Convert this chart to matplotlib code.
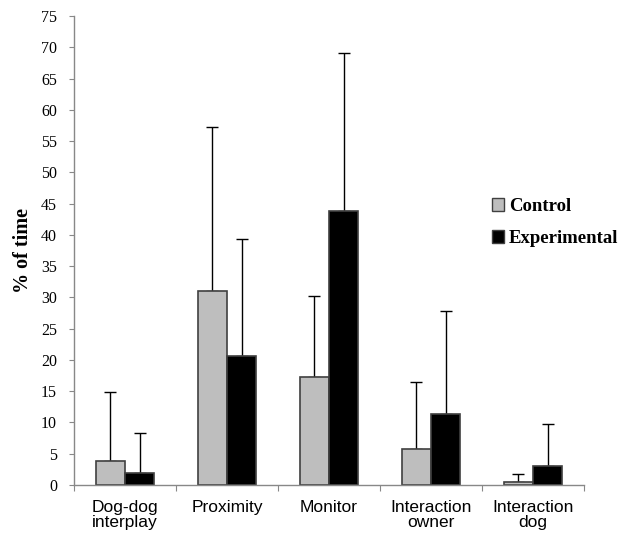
import matplotlib
matplotlib.use("Agg")
import matplotlib.pyplot as plt
import numpy as np
from matplotlib.patches import Patch

categories = ["Dog-dog\ninterplay", "Proximity", "Monitor", "Interaction\nowner", "Interaction\ndog"]
control = [3.9, 31.0, 17.2, 5.7, 0.5]
control_err = [11.0, 26.2, 13.0, 10.7, 1.2]
experimental = [1.9, 20.6, 43.8, 11.4, 3.1]
experimental_err = [6.4, 18.7, 25.3, 16.4, 6.7]
yticks = list(range(0, 80, 5))

fig = plt.figure(figsize=(6.25, 5.36), dpi=100)
ax = fig.add_axes([0.1184, 0.0951, 0.816, 0.875])

x = np.arange(len(categories))
w = 0.285
ax.bar(x - w/2, control, w, color="#bebebe", edgecolor="#404040", linewidth=1.2, zorder=2)
ax.bar(x + w/2, experimental, w, color="#000000", edgecolor="#404040", linewidth=1.2, zorder=2)
ax.errorbar(x - w/2, control, yerr=[np.zeros(len(control)), control_err], fmt="none",
            ecolor="black", elinewidth=1.0, capsize=4, capthick=1.0, zorder=1)
ax.errorbar(x + w/2, experimental, yerr=[np.zeros(len(experimental)), experimental_err], fmt="none",
            ecolor="black", elinewidth=1.0, capsize=4, capthick=1.0, zorder=1)

ax.set_xlim(-0.5, len(categories) - 0.5)
ax.set_ylim(0, 75)
ax.set_yticks(yticks)
ax.set_yticklabels([str(t) for t in yticks], family="Liberation Serif", fontsize=11.5)

ax.set_xticks(np.arange(len(categories) + 1) - 0.5)
ax.set_xticklabels([])
ax.set_xticks(x, minor=True)
ax.set_xticklabels(categories, minor=True, family="Liberation Sans", fontsize=12.5, linespacing=1.0)
ax.tick_params(axis="x", which="minor", length=0, pad=11)
ax.tick_params(axis="x", which="major", length=4, color="#888888", direction="out")
ax.tick_params(axis="y", length=3.6, color="#888888", direction="out", pad=8.6)

for s in ["top", "right"]:
    ax.spines[s].set_visible(False)
for s in ["left", "bottom"]:
    ax.spines[s].set_color("#888888")
    ax.spines[s].set_linewidth(1.0)

ax.set_ylabel("% of time", family="Liberation Serif", fontweight="bold", fontsize=14.5, labelpad=6)

handles = [Patch(facecolor="#bebebe", edgecolor="#404040", label="Control"),
           Patch(facecolor="#000000", edgecolor="#404040", label="Experimental")]
leg = fig.legend(handles=handles, loc="upper left", bbox_to_anchor=(0.787, 0.6306),
                 frameon=False, prop={"family": "Liberation Serif", "weight": "bold", "size": 13.5},
                 handlelength=0.65, handleheight=0.65, handletextpad=0.25, labelspacing=0.8,
                 borderpad=0, borderaxespad=0)

fig.savefig("out.png", dpi=100)
